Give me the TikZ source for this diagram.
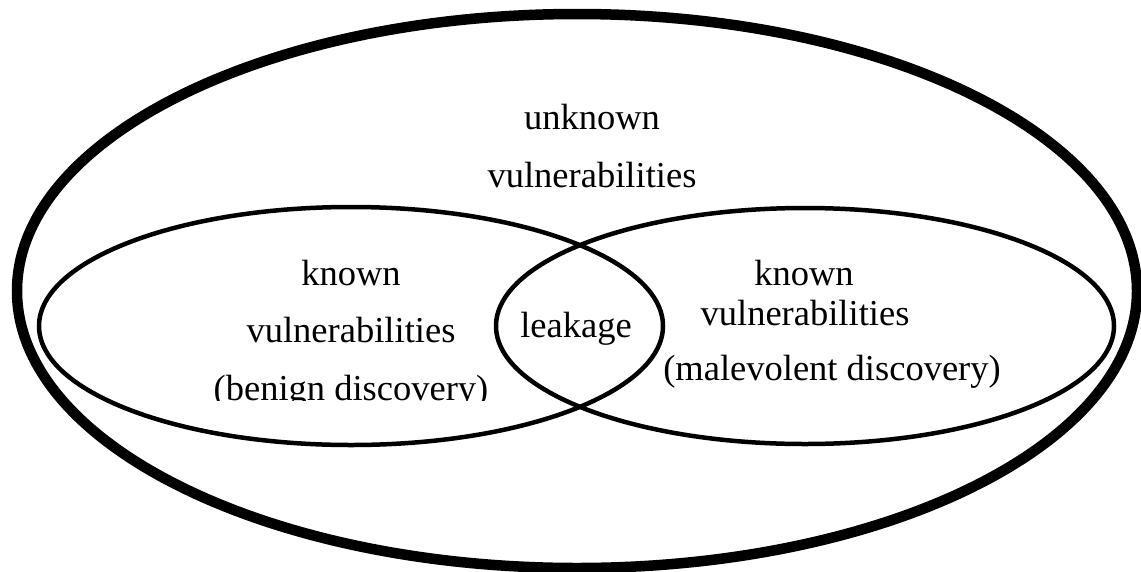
\documentclass[tikz,border=0pt]{standalone}
\usepackage{fontspec}
\setmainfont{Liberation Serif}
\begin{document}
\begin{tikzpicture}[x=1pt,y=-1pt,
  outerring/.style={line width=10.5pt},
  setring/.style={line width=4.5pt},
  label/.style={inner sep=0pt,anchor=base,font=\fontsize{36.5}{40}\selectfont}]
\useasboundingbox (0,0) rectangle (1141,571);
% universe of vulnerabilities
\draw[outerring] (577,291) ellipse [x radius=560, y radius=277];
% the two discovery sets
\draw[setring] (351,326) ellipse [x radius=312, y radius=119];
\draw[setring] (805,326) ellipse [x radius=309, y radius=118];
% labels
\node[label] (unk1) at (592,129) {unknown};
\node[label] (unk2) at (592,187) {vulnerabilities};
\node[label] (kb1) at (351,285) {known};
\node[label] (kb2) at (351,342) {vulnerabilities};
\begin{scope}
  \clip (150,340) rectangle (560,400);
  \node[label] (kb3) at (351,400) {(benign discovery)};
\end{scope}
\node[label] (leak) at (576,337) {leakage};
\node[label] (km1) at (804,285) {known};
\node[label] (km2) at (805,325) {vulnerabilities};
\node[label] (km3) at (832,380) {(malevolent discovery)};
\end{tikzpicture}
\end{document}
